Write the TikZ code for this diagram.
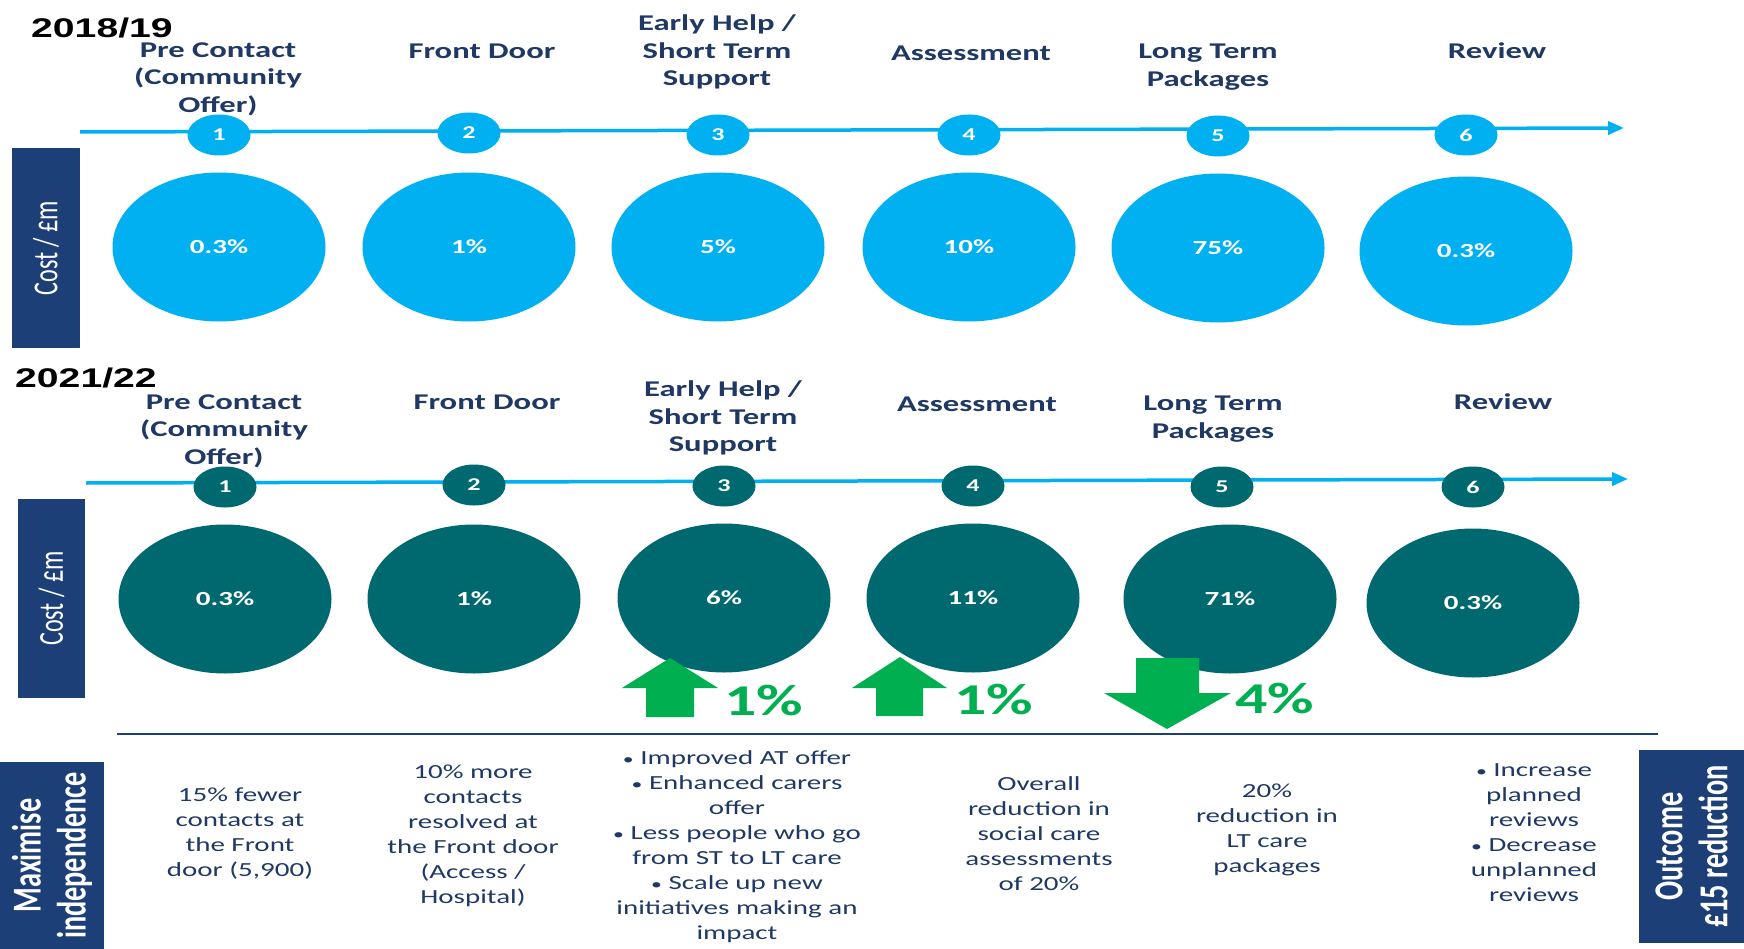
\documentclass[tikz,border=0pt]{standalone}
\usepackage{fontspec}
\usepackage{xcolor}
\usetikzlibrary{positioning,shapes.geometric,arrows.meta}

\newfontfamily\wideCal[FakeStretch=1.45]{Carlito}
\newfontfamily\tallCal[FakeStretch=0.69]{Carlito}
\newfontfamily\wideArial[FakeStretch=1.45]{Liberation Sans}

\definecolor{skyblue}{RGB}{0,176,240}
\definecolor{tealdark}{RGB}{0,105,112}
\definecolor{navybox}{RGB}{29,63,119}
\definecolor{navytext}{RGB}{31,56,100}
\definecolor{upgreen}{RGB}{0,176,80}

\newcommand{\bul}{{\fontsize{15}{15}\selectfont•}}

\begin{document}
\begin{tikzpicture}[x=1pt,y=-1pt,node distance=112pt,
    year/.style={font=\wideArial\bfseries\fontsize{27}{30}\selectfont, anchor=base west, inner sep=0pt},
    stagehead/.style={text=navytext, align=center, inner sep=0pt, font=\wideCal\bfseries\fontsize{22.5}{27.5}\selectfont},
    numA/.style={ellipse, fill=skyblue, text=white, minimum width=63pt, minimum height=41pt, inner sep=0pt, font=\wideCal\bfseries\fontsize{18}{20}\selectfont},
    numB/.style={numA, fill=tealdark},
    bigA/.style={ellipse, fill=skyblue, text=white, minimum width=213pt, minimum height=149pt, inner sep=0pt, font=\wideCal\bfseries\fontsize{20}{24}\selectfont},
    bigB/.style={bigA, fill=tealdark},
    sidebox/.style={rotate=90, fill=navybox, text=white, align=center, inner sep=0pt},
    timeline/.style={draw=skyblue, line width=3.5pt, -{Triangle[length=16pt,width=13pt]}},
    change/.style={fill=upgreen},
    changepct/.style={text=upgreen, anchor=base west, inner sep=0pt, font=\wideCal\bfseries\fontsize{44}{48}\selectfont},
    notes/.style={text=navytext, align=center, inner sep=0pt, font=\wideCal\fontsize{20}{25}\selectfont}]

    \useasboundingbox (0,0) rectangle (1744,949);

    % 2018/19
    \node[year] (yA) at (31,38) {2018/19};

    \node[stagehead] (H1A) at (218,79) {Pre Contact\\(Community\\Offer)};
    \node[stagehead] (H2A) at (482,51) {Front Door};
    \node[stagehead] (H3A) at (717,52) {Early Help /\\Short Term\\Support};
    \node[stagehead] (H4A) at (971,53) {Assessment};
    \node[stagehead] (H5A) at (1208,67) {Long Term\\Packages};
    \node[stagehead] (H6A) at (1497,51) {Review};

    \coordinate (LAs) at (80,132);
    \coordinate (LAe) at (1624,128);
    \draw[timeline] (LAs) -- (LAe);

    \node[numA] (N1A) at (219,135) {1};
    \node[numA] (N2A) at (469,133) {2};
    \node[numA] (N3A) at (718,135) {3};
    \node[numA] (N4A) at (969,135) {4};
    \node[numA] (N5A) at (1218,136) {5};
    \node[numA] (N6A) at (1466,135) {6};

    \node[bigA, below of=N1A] (E1A) {0.3\%};
    \node[bigA, below of=N2A, yshift=-2pt] (E2A) {1\%};
    \node[bigA, below of=N3A] (E3A) {5\%};
    \node[bigA, below of=N4A] (E4A) {10\%};
    \node[bigA, below of=N5A] (E5A) {75\%};
    \node[bigA, below of=N6A, yshift=-4pt] (E6A) {0.3\%};

    \node[sidebox, minimum width=200pt, minimum height=68pt,
          font=\tallCal\fontsize{35}{38}\selectfont] (costA) at (46,248) {Cost / £m};

    % 2021/22
    \node[year] (yB) at (15,387) {2021/22};

    \node[stagehead] (H1B) at (224,431) {Pre Contact\\(Community\\Offer)};
    \node[stagehead] (H2B) at (487,402) {Front Door};
    \node[stagehead] (H3B) at (723,418) {Early Help /\\Short Term\\Support};
    \node[stagehead] (H4B) at (977,404) {Assessment};
    \node[stagehead] (H5B) at (1213,419) {Long Term\\Packages};
    \node[stagehead] (H6B) at (1503,402) {Review};

    \coordinate (LBs) at (86,483);
    \coordinate (LBe) at (1628,479);
    \draw[timeline] (LBs) -- (LBe);

    \node[numB] (N1B) at (225,487) {1};
    \node[numB] (N2B) at (474,485) {2};
    \node[numB] (N3B) at (724,486) {3};
    \node[numB] (N4B) at (973,486) {4};
    \node[numB] (N5B) at (1222,487) {5};
    \node[numB] (N6B) at (1473,487) {6};

    \node[bigB, below of=N1B] (E1B) {0.3\%};
    \node[bigB, below of=N2B, yshift=-2pt] (E2B) {1\%};
    \node[bigB, below of=N3B] (E3B) {6\%};
    \node[bigB, below of=N4B] (E4B) {11\%};
    \node[bigB, below of=N5B, xshift=8pt] (E5B) {71\%};
    \node[bigB, below of=N6B, yshift=-4pt] (E6B) {0.3\%};

    \node[sidebox, minimum width=199pt, minimum height=67pt,
          font=\tallCal\fontsize{35}{38}\selectfont] (costB) at (51.5,598.5) {Cost / £m};

    % change arrows
    \fill[change] (670,658) -- (718,688) -- (694,688) -- (694,717) -- (646,717) -- (646,688) -- (622,688) -- cycle;
    \fill[change] (900,657) -- (947,688) -- (923,688) -- (923,716) -- (876,716) -- (876,688) -- (852,688) -- cycle;
    \fill[change] (1136,658) -- (1199,658) -- (1199,693) -- (1231,693) -- (1167,729) -- (1104,693) -- (1136,693) -- cycle;

    \node[changepct] (P3) at (724,715) {1\%};
    \node[changepct] (P4) at (954,714) {1\%};
    \node[changepct] (P5) at (1235,713) {4\%};

    \coordinate (SLs) at (117,734);
    \coordinate (SLe) at (1658,734);
    \draw[navybox, line width=2pt] (SLs) -- (SLe);

    % outcomes
    \node[sidebox, minimum width=187pt, minimum height=104pt,
          font=\tallCal\bfseries\fontsize{41}{45}\selectfont] (maxi) at (52,855.5) {Maximise\\independence};

    \node[notes] (T1) at (240,834) {15\% fewer\\contacts at\\the Front\\door (5,900)};
    \node[notes] (T2) at (473,836) {10\% more\\contacts\\resolved at\\the Front door\\(Access /\\Hospital)};
    \node[notes] (T3) at (737,847) {\bul\ Improved AT offer\\\bul\ Enhanced carers\\offer\\\bul\ Less people who go\\from ST to LT care\\\bul\ Scale up new\\initiatives making an\\impact};
    \node[notes] (T4) at (1039,834) {Overall\\reduction in\\social care\\assessments\\of 20\%};
    \node[notes] (T5) at (1267,830) {20\%\\reduction in\\LT care\\packages};
    \node[notes] (T6) at (1534,833) {\bul\ Increase\\planned\\reviews\\\bul\ Decrease\\unplanned\\reviews};

    \node[sidebox, minimum width=193pt, minimum height=105pt,
          font=\tallCal\bfseries\fontsize{41}{45}\selectfont] (outc) at (1691.5,846.5) {Outcome\\£15 reduction};
\end{tikzpicture}
\end{document}
